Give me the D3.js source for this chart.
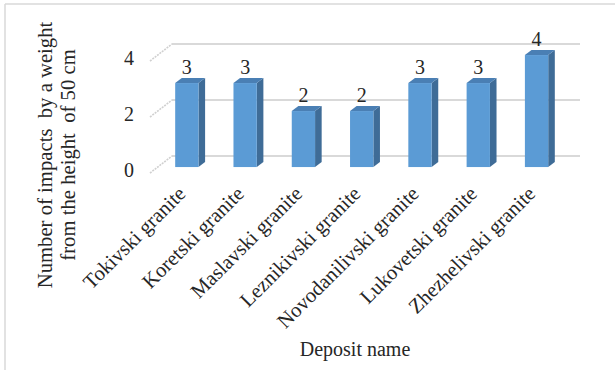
<!DOCTYPE html>
<html>
<head>
<meta charset="utf-8">
<script src="https://cdn.jsdelivr.net/npm/d3@7"></script>
<style>
  html, body { margin: 0; padding: 0; background: #fff; }
  svg { display: block; }
  text { font-family: "Liberation Serif", "Times New Roman", serif; fill: #262626; }
</style>
</head>
<body>
<svg id="chart" width="615" height="370"></svg>
<script>
// Deposits and the number of impacts each sample withstood
const categories = [
  "Tokivski granite", "Koretski granite", "Maslavski granite",
  "Leznikivski granite", "Novodanilivski granite", "Lukovetski granite",
  "Zhezhelivski granite"
];
const impacts = [3, 3, 2, 2, 3, 3, 4];
const yTicks = [0, 2, 4];
const yTitleLines = ["Number of impacts  by a weight", "from the height  of 50 cm"];
const xTitle = "Deposit name";

const svg = d3.select("#chart");

// Frame lines
svg.append("line").attr("x1", 5).attr("y1", 4).attr("x2", 615).attr("y2", 4)
  .attr("stroke", "#d9d9d9").attr("stroke-width", 1.5);
svg.append("line").attr("x1", 5).attr("y1", 4).attr("x2", 5).attr("y2", 370)
  .attr("stroke", "#d9d9d9").attr("stroke-width", 1.5);

// Oblique 3-D projection: front plane scales plus a depth offset
const depthDX = 22, depthDY = -17;
const x = d3.scaleBand().domain(categories).range([150, 558])
  .paddingInner(0.6).paddingOuter(0.3);
const y = d3.scaleLinear().domain([0, 4]).range([173, 61]);
const px = (xv, z) => xv + depthDX * z;
const py = (yv, z) => yv + depthDY * z;

// Back wall gridlines and side wall edges
const grid = svg.append("g");
yTicks.forEach(t => {
  grid.append("line")
    .attr("x1", px(150, 1)).attr("x2", px(558, 1))
    .attr("y1", py(y(t), 1)).attr("y2", py(y(t), 1))
    .attr("stroke", "#d9d9d9").attr("stroke-width", 2);
  grid.append("line")
    .attr("x1", px(150, 0)).attr("y1", py(y(t), 0))
    .attr("x2", px(150, 1)).attr("y2", py(y(t), 1))
    .attr("stroke", "#d0d0d0").attr("stroke-width", 1.6)
    .attr("stroke-dasharray", "2,1");
});

// Y tick labels
svg.append("g").selectAll("text").data(yTicks).join("text")
  .attr("x", 134).attr("y", d => y(d) + 4)
  .attr("text-anchor", "end").attr("font-size", 20)
  .text(d => d);

// 3-D columns
const z0 = 0.35, z1 = 0.65;
const bw = x.bandwidth();
const bars = svg.append("g").selectAll("g").data(impacts).join("g");

// side face
bars.append("polygon")
  .attr("fill", "#3f6c97")
  .attr("points", (d, i) => {
    const xr = x(categories[i]) + bw;
    return [
      [px(xr, z0), py(y(d), z0)], [px(xr, z1), py(y(d), z1)],
      [px(xr, z1), py(y(0), z1)], [px(xr, z0), py(y(0), z0)]
    ].join(" ");
  });
// top face
bars.append("polygon")
  .attr("fill", "#4a7fb4")
  .attr("points", (d, i) => {
    const xl = x(categories[i]), xr = xl + bw;
    return [
      [px(xl, z0), py(y(d), z0)], [px(xr, z0), py(y(d), z0)],
      [px(xr, z1), py(y(d), z1)], [px(xl, z1), py(y(d), z1)]
    ].join(" ");
  });
// front face
bars.append("rect")
  .attr("fill", "#5b9bd5")
  .attr("x", (d, i) => px(x(categories[i]), z0))
  .attr("y", d => py(y(d), z0))
  .attr("width", bw)
  .attr("height", d => y(0) - y(d));

// Value labels
svg.append("g").selectAll("text").data(impacts).join("text")
  .attr("x", (d, i) => px(x(categories[i]) + bw / 2, z0))
  .attr("y", d => py(y(d), z0) - 9)
  .attr("text-anchor", "middle").attr("font-size", 20)
  .text(d => d);

// Category labels, rotated
svg.append("g").selectAll("text").data(categories).join("text")
  .attr("transform", d => `translate(${px(x(d) + bw / 2, z0)},${195}) rotate(-45)`)
  .attr("text-anchor", "end").attr("font-size", 20.7)
  .text(d => d);

// Axis titles
const yTitle = svg.append("text")
  .attr("transform", "translate(0,155) rotate(-90)")
  .attr("text-anchor", "middle").attr("font-size", 20.7);
yTitleLines.forEach((line, k) => {
  yTitle.append("tspan").attr("x", 0).attr("y", 52 + k * 23)
    .style("white-space", "pre").text(line);
});
svg.append("text")
  .attr("x", 355).attr("y", 356)
  .attr("text-anchor", "middle").attr("font-size", 20)
  .style("white-space", "pre")
  .text(xTitle);
</script>
</body>
</html>
